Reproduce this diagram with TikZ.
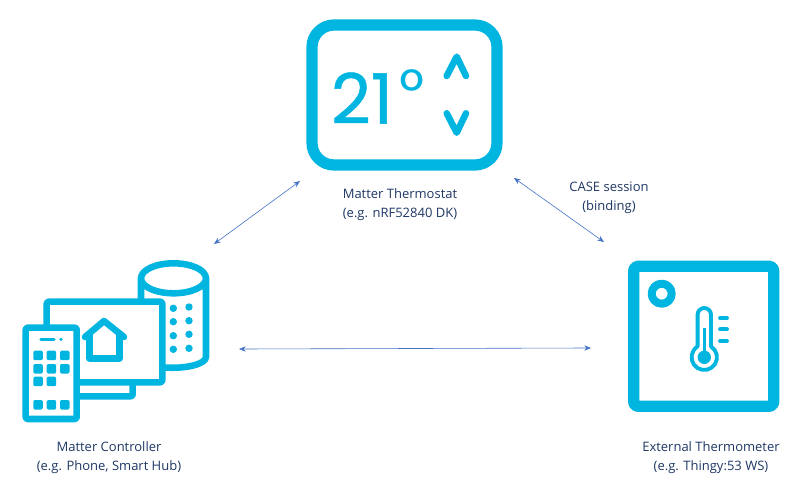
\documentclass[tikz,border=0pt]{standalone}
\usepackage{fontspec}
\setmainfont{Open Sans}
\newfontfamily\numfont[FakeBold=0.7]{Poppins}
\newfontfamily\degfont{Poppins}
\usetikzlibrary{arrows.meta}
\definecolor{iconblue}{HTML}{00B5DF}
\definecolor{linkblue}{HTML}{4472C4}
\definecolor{labelblue}{HTML}{1F3864}
\tikzset{
  x=0.75pt,y=-0.75pt,
  icon/.style={draw=iconblue,line join=round,line cap=round},
  thick6/.style={icon,line width=4.9pt},
  thick11/.style={icon,line width=8.4pt},
  thin3/.style={icon,line width=2.9pt},
  dotk/.style={fill=iconblue},
  keypad/.style={fill=iconblue,rounded corners=1pt},
  link/.style={draw=linkblue,line width=0.45pt,{Stealth[length=5pt,width=4pt]}-{Stealth[length=5pt,width=4pt]}},
  lbl/.style={text=labelblue,font=\fontsize{9.75pt}{14pt}\selectfont,align=center,inner sep=0pt},
}
\begin{document}
\begin{tikzpicture}
\useasboundingbox (0,0) rectangle (800,485);
\fill[white] (0,0) rectangle (800,485);

% thermostat icon
\draw[thick11,rounded corners=16.5pt] (312,25) rectangle (497,165);
\node[text=iconblue,inner sep=0pt,font=\numfont\fontsize{52pt}{52pt}\selectfont] (tnum) at (362,98) {21};
\node[text=iconblue,inner sep=0pt,font=\degfont\fontsize{46pt}{46pt}\selectfont,anchor=center] (tdeg) at (412,91) {°};
\draw[thick6] (446.7,76) -- (456.7,56.7) -- (466,76);
\draw[thick6] (446.7,113.3) -- (456.7,132.7) -- (466,113.3);

% controller: speaker
\draw[thick6] (141,298) -- (141,278.3) arc[start angle=180,end angle=0,x radius=32.5,y radius=15] -- (206,357)
  .. controls (206,364) and (186,369) .. (165,367.5);
\draw[thick6] (141,278.3) arc[start angle=180,end angle=360,x radius=32.5,y radius=15];
\foreach \yy in {308.3,321.7,335.7,349.3} \fill[dotk] (173.3,\yy) circle[radius=3.7];
\foreach \yy in {307,320.7,334.3,348.3} \fill[dotk] (189,\yy) circle[radius=3.7];

% controller: monitor
\draw[thick6,fill=white,rounded corners=1.5pt] (46.7,330) -- (46.7,301.7) -- (162.3,301.7) -- (162.3,382.3) -- (70,382.3);
\draw[thick6,rounded corners=1.5pt] (76,396.3) -- (132.7,396.3) -- (132.7,384);
% house
\draw[thick6] (85,337) -- (104,321) -- (124,337);
\draw[thick6] (89.3,335) -- (89.3,358.3) -- (119.3,358.3) -- (119.3,335);

% controller: phone
\draw[thick6,fill=white,rounded corners=1.5pt] (25.7,327.7) rectangle (76.7,419);
\draw[icon,line width=2.5pt] (41,339.3) -- (54,339.3);
\fill[dotk] (61,339.3) circle[radius=1.8];
\foreach \xx/\yy in {33.3/350.7,46.7/350.7,60/350.7,33.3/364,46.7/364,60/364,33.3/376.7,46.7/376.7,33.3/400,46.7/400,60/400}
  \fill[keypad] (\xx,\yy) rectangle ++(9.5,9.5);

% external thermometer icon
\draw[thick11,rounded corners=3pt] (633.7,266.3) rectangle (773.7,406.3);
\draw[icon,line width=6pt] (661.7,293.7) circle[radius=10];
\draw[thin3] (697.6,346.5) -- (697.6,314.7) arc[start angle=180,end angle=360,radius=6.7] -- (711,346.5)
  arc[start angle=-58,end angle=238,radius=12.7];
\fill[dotk] (702.6,327.5) rectangle (706.1,357);
\fill[dotk] (704.3,357.3) circle[radius=6.7];
\draw[thin3] (720,318) -- (727,318);
\draw[thin3] (720,329.3) -- (727,329.3);
\draw[thin3] (720,341) -- (727,341);

% labels
\node[lbl] (thermostat) at (400,204.5) {Matter Thermostat\\(e.g. nRF52840 DK)};
\node[lbl] (session) at (609,197.5) {CASE session\\(binding)};
\node[lbl] (controller) at (109,457.5) {Matter Controller\\(e.g. Phone, Smart Hub)};
\node[lbl] (external) at (711,457.5) {External Thermometer\\(e.g. Thingy:53 WS)};

% connectors
\coordinate (tl) at (300,181);
\coordinate (cr) at (214,244);
\coordinate (tr) at (514,178);
\coordinate (er) at (604,242);
\coordinate (cb) at (239,349);
\coordinate (eb) at (591,348);
\draw[link] (tl) -- (cr);
\draw[link] (tr) -- (er);
\draw[link] (cb) -- (eb);
\end{tikzpicture}
\end{document}
